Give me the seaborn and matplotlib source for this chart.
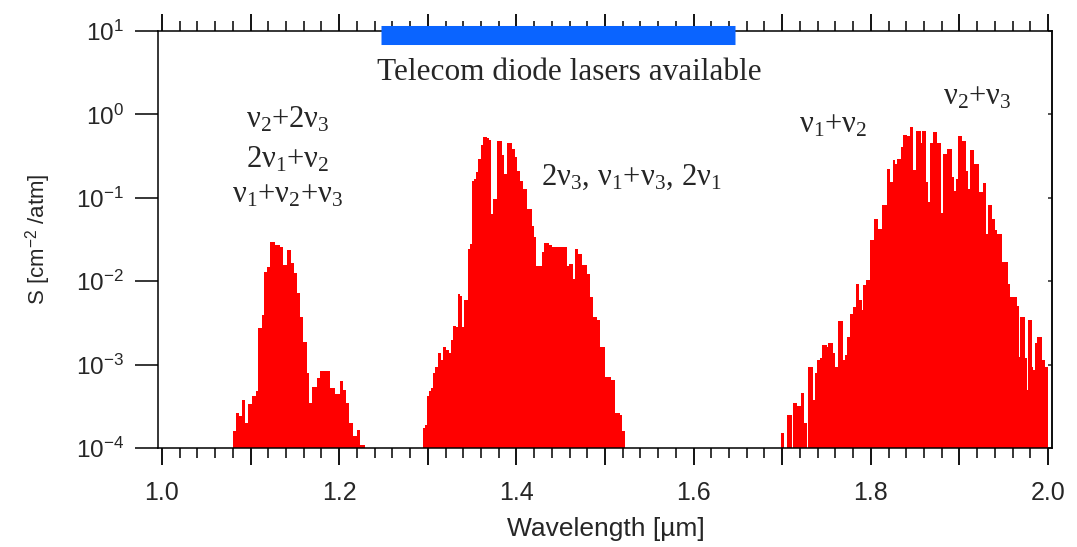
import numpy as np
import pandas as pd
import matplotlib
matplotlib.use("Agg")
import matplotlib.pyplot as plt
import seaborn as sns
from matplotlib.ticker import MultipleLocator, NullLocator, LogLocator, FuncFormatter

# ---------------- data ----------------
# band 1 : nu2+2nu3 / 2nu1+nu2 / nu1+nu2+nu3 (step edges in um, log10 S of each step)
band1_edges = [1.0798, 1.0835, 1.0873, 1.0899, 1.0937, 1.0974, 1.1012, 1.1061, 1.1087,
               1.1125, 1.1151, 1.1181, 1.1219, 1.1275, 1.1332, 1.1362, 1.1381, 1.1407,
               1.1452, 1.1490, 1.1527, 1.1558, 1.1595, 1.1633, 1.1663, 1.1689, 1.1746,
               1.1783, 1.1896, 1.1953, 1.2009, 1.2047, 1.2077, 1.2114, 1.2160, 1.2197,
               1.2235, 1.2291]
band1_log10S = [-3.80, -3.58, -3.62, -3.43, -3.70, -3.47, -3.38, -3.32, -2.56, -2.40,
                -1.89, -1.83, -1.53, -1.57, -1.59, -1.81, -1.80, -1.63, -1.78, -1.90,
                -2.14, -2.43, -2.73, -3.10, -3.46, -3.27, -3.16, -3.08, -3.28, -3.35,
                -3.20, -3.30, -3.46, -3.70, -3.86, -3.78, -3.96]

# band 2 : 2nu3, nu1+nu3, 2nu1
band2_edges = [1.2942, 1.2968, 1.2994, 1.3017, 1.3033, 1.3055, 1.3081, 1.3119, 1.3146,
               1.3168, 1.3205, 1.3243, 1.3265, 1.3288, 1.3318, 1.3344, 1.3363, 1.3383,
               1.3412, 1.3457, 1.3476, 1.3499, 1.3521, 1.3544, 1.3570, 1.3597, 1.3626,
               1.3665, 1.3694, 1.3717, 1.3739, 1.3778, 1.3834, 1.3860, 1.3890, 1.3947,
               1.3984, 1.4010, 1.4041, 1.4078, 1.4116, 1.4173, 1.4199, 1.4221, 1.4285,
               1.4312, 1.4372, 1.4398, 1.4568, 1.4598, 1.4636, 1.4661, 1.4699, 1.4737,
               1.4793, 1.4831, 1.4868, 1.4906, 1.4944, 1.5000, 1.5064, 1.5113, 1.5169,
               1.5195, 1.5226]
band2_log10S = [-3.76, -3.72, -3.38, -3.32, -3.28, -3.10, -3.03, -2.86, -2.94, -2.79,
                -2.82, -2.86, -2.71, -2.54, -2.55, -2.15, -2.18, -2.55, -2.22, -1.61,
                -1.55, -0.80, -0.78, -0.69, -0.53, -0.37, -0.27, -0.28, -0.31, -1.19,
                -1.02, -0.32, -0.49, -0.71, -0.34, -0.42, -0.51, -0.68, -0.80, -0.90,
                -1.14, -1.34, -1.47, -1.82, -1.65, -1.54, -1.57, -1.59, -1.82, -1.79,
                -1.97, -1.61, -1.67, -1.81, -1.91, -2.19, -2.43, -2.47, -2.79, -3.15,
                -3.18, -3.58, -3.60, -3.80]

# band 3 : nu1+nu2 / nu2+nu3   (None = no line in that step)
band3_edges = [1.6983, 1.7020, 1.7058, 1.7107, 1.7118, 1.7163, 1.7209, 1.7246, 1.7276,
               1.7295, 1.7344, 1.7370, 1.7389, 1.7427, 1.7446, 1.7502, 1.7521, 1.7570,
               1.7596, 1.7633, 1.7683, 1.7709, 1.7735, 1.7765, 1.7795, 1.7833, 1.7863,
               1.7897, 1.7916, 1.7946, 1.7991, 1.8036, 1.8085, 1.8123, 1.8179, 1.8217,
               1.8247, 1.8273, 1.8292, 1.8337, 1.8367, 1.8405, 1.8442, 1.8480, 1.8507,
               1.8563, 1.8581, 1.8620, 1.8642, 1.8668, 1.8705, 1.8744, 1.8789, 1.8812,
               1.8863, 1.8913, 1.8939, 1.8962, 1.8988, 1.9026, 1.9071, 1.9094, 1.9120,
               1.9165, 1.9221, 1.9263, 1.9300, 1.9326, 1.9365, 1.9402, 1.9428, 1.9477,
               1.9552, 1.9571, 1.9647, 1.9673, 1.9684, 1.9740, 1.9760, 1.9778, 1.9816,
               1.9834, 1.9853, 1.9872, 1.9929, 1.9966, 2.0003]
band3_log10S = [-3.82, None, -3.60, None, -3.46, -3.50, -3.34, -3.70, None, -3.03,
                -3.42, -3.10, -2.94, -2.92, -2.77, -2.79, -2.74, -2.86, -3.03, -2.48,
                -2.94, -2.88, -2.67, -2.39, -2.31, -2.03, -2.23, -2.35, -2.05, -1.99,
                -1.51, -1.25, -1.38, -1.09, -0.66, -0.81, -0.55, -0.59, -0.54, -0.39,
                -0.25, -0.26,
                -0.155, -0.667, -0.195, -0.347, -0.195, -0.807, -1.047, -0.339, -0.207,
                -0.339, -1.18, -0.475, -0.419, -0.755, -0.915, -0.779, -0.259, -0.315,
                -0.675, -0.899, -0.427, -0.595, -0.927, -0.819, -1.43, -1.09, -1.25,
                -1.39, -1.43, -1.77, -2.03, -2.19, -2.30, -2.91, -2.43, -2.92, -3.31,
                -2.46, -3.03, -3.07, -2.74, -2.67, -2.95, -3.03]

telecom_range = [1.247, 1.647]
telecom_label = "Telecom diode lasers available"

band_labels = [
    (r"$\mathrm{\nu_2{+}2\nu_3}$", 1.1422, 10 ** -0.163, "center"),
    (r"$\mathrm{2\nu_1{+}\nu_2}$", 1.1422, 10 ** -0.631, "center"),
    (r"$\mathrm{\nu_1{+}\nu_2{+}\nu_3}$", 1.1422, 10 ** -1.062, "center"),
    (r"$\mathrm{2\nu_3,\,\nu_1{+}\nu_3,\,2\nu_1}$", 1.4274, 10 ** -0.847, "left"),
    (r"$\mathrm{\nu_1{+}\nu_2}$", 1.7573, 10 ** -0.223, "center"),
    (r"$\mathrm{\nu_2{+}\nu_3}$", 1.9199, 10 ** 0.113, "center"),
]

# ---------------- style ----------------
sns.set_theme(style="ticks")
plt.rcParams["font.family"] = ["Liberation Sans", "DejaVu Sans"]
plt.rcParams["mathtext.fontset"] = "custom"
plt.rcParams["mathtext.rm"] = "Liberation Serif"
plt.rcParams["mathtext.it"] = "Liberation Serif:italic"
plt.rcParams["mathtext.bf"] = "Liberation Serif:bold"
plt.rcParams["axes.linewidth"] = 1.1

RED = "#ff0000"
BLUE = "#0a64ff"

fig = plt.figure(figsize=(10.77, 5.47), dpi=100)
ax = fig.add_axes([158 / 1077, 1 - 448 / 547, (1052 - 158) / 1077, (448 - 31) / 547])

for edges, logs in [(band1_edges, band1_log10S), (band2_edges, band2_log10S),
                    (band3_edges, band3_log10S)]:
    e = np.asarray(edges, dtype=float)
    df = pd.DataFrame({
        "wavelength": (e[:-1] + e[1:]) / 2,
        "S": [0.0 if v is None else 10.0 ** v for v in logs],
    })
    sns.histplot(data=df, x="wavelength", weights="S", bins=list(e), ax=ax,
                 color=RED, alpha=1.0, linewidth=0, edgecolor="none",
                 stat="count", fill=True)

ax.set_yscale("log")
ax.set_xlim(0.9955, 2.0045)
ax.set_ylim(1e-4, 10)

# x ticks: long every 0.1 (labels every 0.2), short every 0.02
ax.xaxis.set_major_locator(MultipleLocator(0.1))
ax.xaxis.set_minor_locator(MultipleLocator(0.02))
ax.xaxis.set_major_formatter(FuncFormatter(
    lambda v, p: f"{v:.1f}" if int(round(v * 10)) % 2 == 0 else ""))
ax.tick_params(axis="x", which="major", direction="out", length=12, width=1.3,
               top=True, bottom=True, labelsize=18, pad=12, color="black")
ax.tick_params(axis="x", which="minor", direction="out", length=7, width=1.1,
               top=True, bottom=True, color="black")

ax.yaxis.set_major_locator(LogLocator(base=10, numticks=10))
ax.yaxis.set_minor_locator(NullLocator())
ax.tick_params(axis="y", which="major", direction="out", length=16.5, width=1.1,
               left=True, right=False, labelsize=17.5, pad=8, color="black")

sec = ax.secondary_yaxis("right")
sec.yaxis.set_major_locator(LogLocator(base=10, numticks=10))
sec.yaxis.set_minor_locator(NullLocator())
sec.tick_params(axis="y", which="major", direction="in", length=3, width=1.1,
                labelright=False)
sec.spines["right"].set_linewidth(1.1)

for s in ax.spines.values():
    s.set_visible(True)
    s.set_color("black")

ax.set_xlabel("Wavelength [\u00b5m]", fontsize=19)
ax.xaxis.set_label_coords(0.501, -0.165)
ax.set_ylabel("S [cm$^{\\mathdefault{-2}}$ /atm]", fontsize=16)
ax.yaxis.set_label_coords(-0.118, 0.5)

# telecom band marker
ax.plot(telecom_range, [9.05, 9.05], color=BLUE, lw=13.7, solid_capstyle="butt",
        clip_on=False, zorder=5)
ax.text(sum(telecom_range) / 2 + 0.013, 10 ** 0.4125, telecom_label,
        family="Liberation Serif", fontsize=22.5, ha="center", va="baseline")

for txt, x, y, ha in band_labels:
    ax.text(x, y, txt, fontsize=22, ha=ha, va="baseline")

fig.savefig("out.png", dpi=100)
